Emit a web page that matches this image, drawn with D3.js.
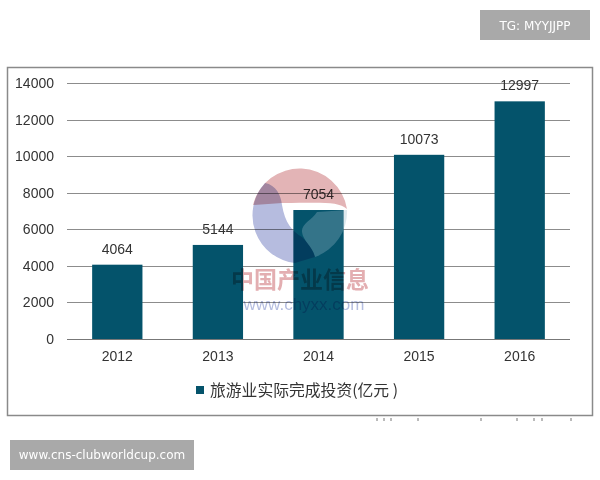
<!DOCTYPE html>
<html>
<head>
<meta charset="utf-8">
<title>旅游业实际完成投资</title>
<style>
html, body { margin: 0; padding: 0; background: #fff; }
svg { display: block; }
text { font-family: "Liberation Sans", Arial, sans-serif; }
.cjk { font-family: "Noto Sans CJK SC", sans-serif; }
.tag { font-family: "DejaVu Sans", sans-serif; }
.wm { mix-blend-mode: multiply; }
</style>
</head>
<body>
<div id="vis"></div>
<script src="https://d3js.org/d3.v7.min.js"></script>
<script>
var years = ["2012", "2013", "2014", "2015", "2016"];
var invest = [4064, 5144, 7054, 10073, 12997];
var yTicks = [0, 2000, 4000, 6000, 8000, 10000, 12000, 14000];
var legendLabel = "旅游业实际完成投资(亿元 )";
var tagTop = "TG: MYYJJPP";
var tagBottom = "www.cns-clubworldcup.com";
var wmTitle = "中国产业信息";
var wmSite = "www.chyxx.com";
var cropMarks = [377, 384, 391, 418, 481, 517, 534, 542, 571];
var markColor = "#04536b";

var svg = d3.select("#vis").append("svg")
    .attr("width", 600)
    .attr("height", 480);

// outer frame
svg.append("rect")
    .attr("x", 7.5).attr("y", 67.5)
    .attr("width", 585).attr("height", 348)
    .attr("fill", "#fff")
    .attr("stroke", "#8a8a8a")
    .attr("stroke-width", 1.5);

// leftovers of cropped text under the frame
svg.append("g").selectAll("line")
    .data(cropMarks).enter().append("line")
    .attr("x1", function(d) { return d; })
    .attr("x2", function(d) { return d; })
    .attr("y1", 418).attr("y2", 421)
    .attr("stroke", "#777")
    .attr("stroke-width", 1);

var x = d3.scaleBand().domain(years).range([67, 570]).paddingInner(0.5).paddingOuter(0.25);
var y = d3.scaleLinear().domain([0, 14000]).range([339, 83]);

// gridlines
svg.append("g").selectAll("line")
    .data(yTicks).enter().append("line")
    .attr("x1", 67).attr("x2", 570)
    .attr("y1", function(d) { return Math.round(y(d)) + 0.5; })
    .attr("y2", function(d) { return Math.round(y(d)) + 0.5; })
    .attr("stroke", function(d) { return d == 0 ? "#777" : "#8c8c8c"; })
    .attr("stroke-width", 1);

// tick labels
svg.append("g").selectAll("text")
    .data(yTicks).enter().append("text")
    .attr("x", 54).attr("y", function(d) { return y(d) + 5; })
    .attr("text-anchor", "end")
    .attr("font-size", 14)
    .attr("fill", "#333")
    .text(function(d) { return d; });

svg.append("g").selectAll("text")
    .data(years).enter().append("text")
    .attr("x", function(d) { return x(d) + x.bandwidth() / 2; })
    .attr("y", 361)
    .attr("text-anchor", "middle")
    .attr("font-size", 14)
    .attr("fill", "#333")
    .text(function(d) { return d; });

// bars
svg.append("g").selectAll("rect")
    .data(invest).enter().append("rect")
    .attr("x", function(d, i) { return x(years[i]); })
    .attr("y", function(d) { return y(d); })
    .attr("width", x.bandwidth())
    .attr("height", function(d) { return y(0) - y(d); })
    .attr("fill", markColor);

// value labels
svg.append("g").selectAll("text")
    .data(invest).enter().append("text")
    .attr("x", function(d, i) { return x(years[i]) + x.bandwidth() / 2; })
    .attr("y", function(d) { return y(d) - 11; })
    .attr("text-anchor", "middle")
    .attr("font-size", 14)
    .attr("fill", "#333")
    .text(function(d) { return d; });

// watermark logo, drawn around its own centre
var wm = svg.append("g").attr("transform", "translate(300,215)");
wm.append("path")
    .attr("class", "wm")
    .attr("d", "M-47,-10 A48,48 0 0 1 47,-6 C38,-14 20,-12 -18,-12 Z")
    .attr("fill", "#e3b4b6");
wm.append("path")
    .attr("class", "wm")
    .attr("d", "M-35,-32 C-24,-30 -19,-20 -18,-10 C-15,8 -8,16 2,22 C8,28 13,34 15,42 L-5,48 A48,48 0 0 1 -35,-32 Z")
    .attr("fill", "#b6bcdf");
wm.append("path")
    .attr("d", "M17,-3 C12,5 1,9 2,17 C3,26 13,32 15,42 A48,48 0 0 0 47,-6 L47,-5 Z")
    .attr("fill", "#9dbccb")
    .attr("opacity", 0.32);
wm.append("text")
    .attr("class", "cjk wm")
    .attr("x", 0).attr("y", 73)
    .attr("text-anchor", "middle")
    .attr("font-size", 23).attr("font-weight", 700)
    .attr("fill", "#e3aeb1")
    .text(wmTitle);
wm.append("text")
    .attr("class", "wm")
    .attr("x", 4).attr("y", 95)
    .attr("text-anchor", "middle")
    .attr("font-size", 17)
    .attr("fill", "#b4bde0")
    .text(wmSite);

// legend
svg.append("rect")
    .attr("x", 196).attr("y", 386)
    .attr("width", 8).attr("height", 8)
    .attr("fill", markColor);
svg.append("text")
    .attr("class", "cjk")
    .attr("x", 210).attr("y", 396)
    .attr("font-size", 15.8)
    .attr("fill", "#333")
    .text(legendLabel);

// overlay tags
svg.append("rect")
    .attr("x", 480).attr("y", 10).attr("width", 110).attr("height", 30)
    .attr("fill", "#a9a9a9");
svg.append("text")
    .attr("class", "tag")
    .attr("x", 535).attr("y", 30)
    .attr("text-anchor", "middle")
    .attr("font-size", 12)
    .attr("fill", "#fff")
    .text(tagTop);
svg.append("rect")
    .attr("x", 10).attr("y", 440).attr("width", 184).attr("height", 30)
    .attr("fill", "#a9a9a9");
svg.append("text")
    .attr("class", "tag")
    .attr("x", 102).attr("y", 459)
    .attr("text-anchor", "middle")
    .attr("font-size", 12)
    .attr("fill", "#fff")
    .text(tagBottom);
</script>
</body>
</html>
